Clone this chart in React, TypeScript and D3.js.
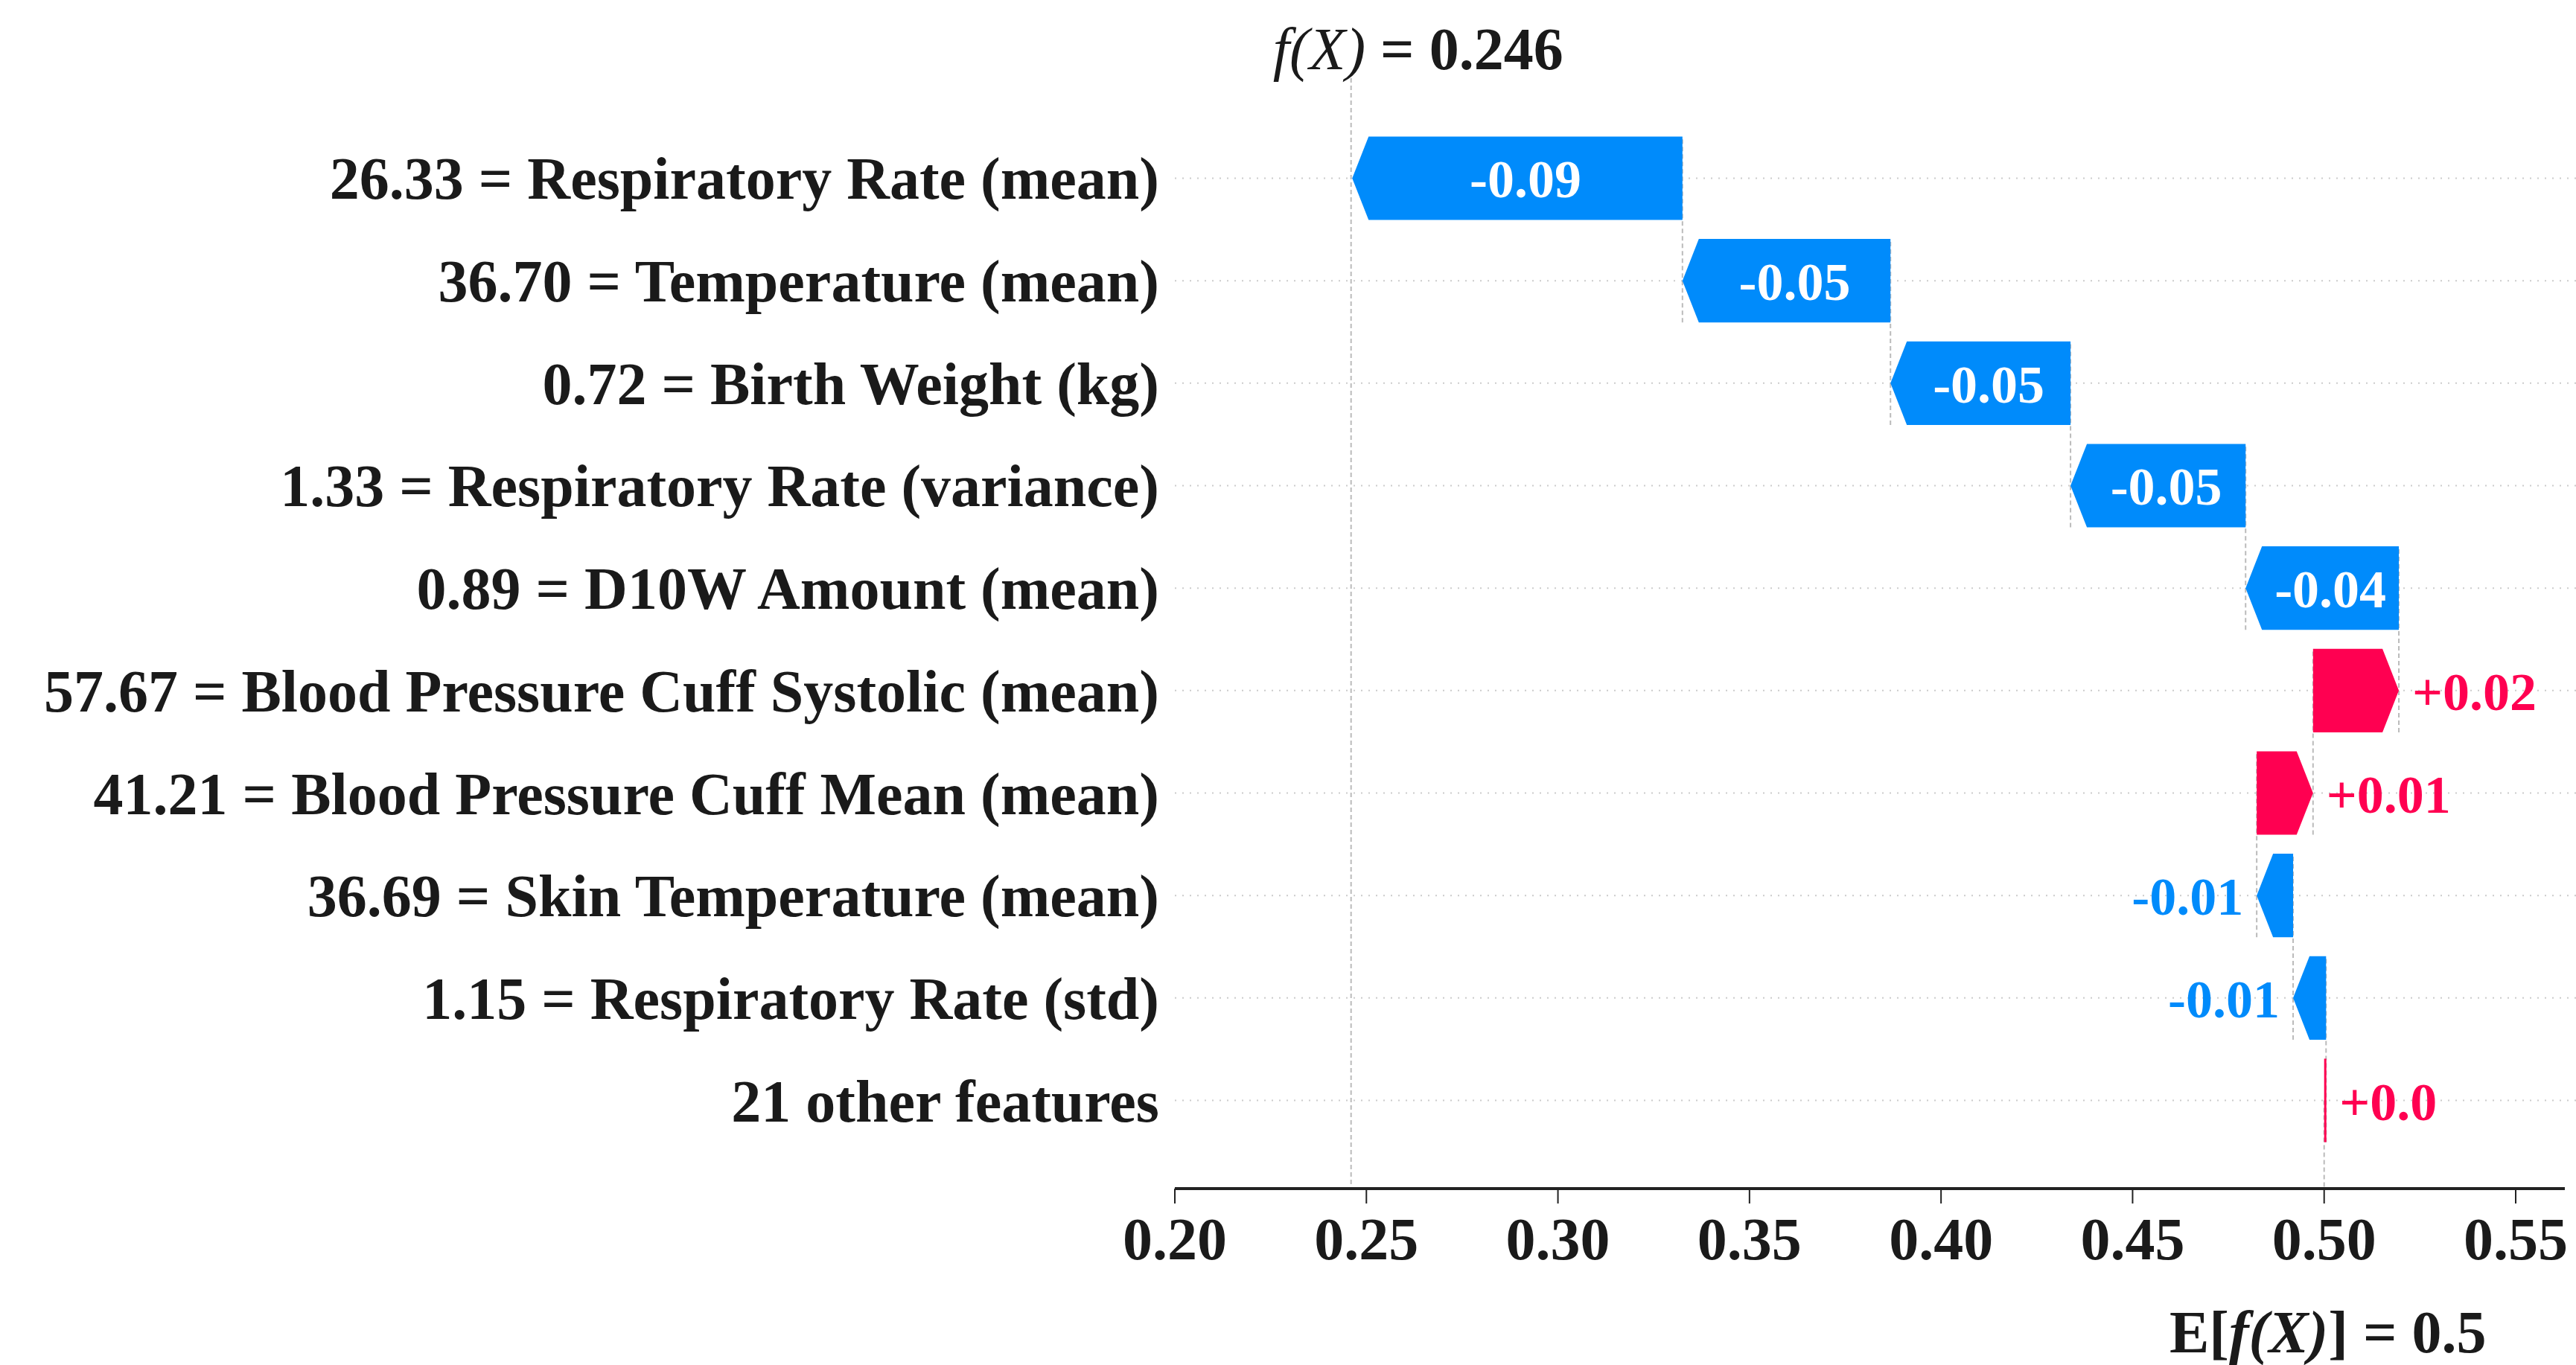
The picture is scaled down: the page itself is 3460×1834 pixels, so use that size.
import React from "react";
import * as d3 from "d3";

const features = [
  "26.33 = Respiratory Rate (mean)",
  "36.70 = Temperature (mean)",
  "0.72 = Birth Weight (kg)",
  "1.33 = Respiratory Rate (variance)",
  "0.89 = D10W Amount (mean)",
  "57.67 = Blood Pressure Cuff Systolic (mean)",
  "41.21 = Blood Pressure Cuff Mean (mean)",
  "36.69 = Skin Temperature (mean)",
  "1.15 = Respiratory Rate (std)",
  "21 other features",
];
const shapValues = [-0.0862, -0.0543, -0.047, -0.0457, -0.04, 0.0224, 0.0147, -0.0095, -0.0086, 0.0005];
const valueLabels = ["-0.09", "-0.05", "-0.05", "-0.05", "-0.04", "+0.02", "+0.01", "-0.01", "-0.01", "+0.0"];
const baseValue = 0.5;
const fx = 0.246;
const ticks = [0.2, 0.25, 0.3, 0.35, 0.4, 0.45, 0.5, 0.55];

const BLUE = "#008bfb";
const RED = "#ff0051";
const FONT = "'Liberation Serif', 'Times New Roman', serif";

export default function App() {
  const W = 3460, H = 1834;
  const x = d3.scaleLinear().domain([0.2, 0.55]).range([1578, 3379]);
  const y = d3.scaleBand<number>().domain(d3.range(features.length)).range([171, 1547]).paddingInner(0.185).paddingOuter(0.09);
  const bh = y.bandwidth();
  const cy = (i: number) => (y(i) as number) + bh / 2;

  // cumulative: bottom row starts at base value
  const starts: number[] = new Array(features.length);
  const ends: number[] = new Array(features.length);
  let cur = baseValue;
  for (let i = features.length - 1; i >= 0; i--) {
    starts[i] = cur;
    cur = cur + shapValues[i];
    ends[i] = cur;
  }
  const head = 22;
  const axisY = 1597;

  const arrowPath = (i: number) => {
    const s = x(starts[i]), e = x(ends[i]);
    const top = y(i) as number, bot = top + bh, mid = top + bh / 2;
    const dir = e > s ? 1 : -1;
    const len = Math.abs(e - s);
    const hl = Math.min(head, len);
    const bodyEnd = e - dir * hl;
    return `M${s},${top} L${bodyEnd},${top} L${e},${mid} L${bodyEnd},${bot} L${s},${bot} Z`;
  };

  return (
    <svg width={W} height={H} style={{ position: "absolute", left: 0, top: 0, background: "#fff" }} fontFamily={FONT}>
      {/* gridlines */}
      {features.map((_, i) => (
        <line key={"g" + i} x1={1578} x2={W} y1={cy(i)} y2={cy(i)} stroke="#ccc" strokeWidth={2} strokeDasharray="2,8" />
      ))}
      {/* f(X) and base lines */}
      <line x1={x(fx)} x2={x(fx)} y1={105} y2={axisY} stroke="#bbb" strokeWidth={2} strokeDasharray="6,4" />
      <line x1={x(baseValue)} x2={x(baseValue)} y1={cy(features.length - 1)} y2={axisY} stroke="#bbb" strokeWidth={2} strokeDasharray="6,4" />
      {/* connectors */}
      {features.map((_, i) =>
        i > 0 ? (
          <line key={"c" + i} x1={x(ends[i])} x2={x(ends[i])} y1={(y(i) as number) + bh} y2={(y(i - 1) as number)} stroke="#bbb" strokeWidth={2} strokeDasharray="6,4" />
        ) : null
      )}
      {/* bars */}
      {features.map((_, i) => {
        const v = shapValues[i];
        const color = v >= 0 ? RED : BLUE;
        const len = Math.abs(x(ends[i]) - x(starts[i]));
        if (len < 6) {
          return <rect key={"b" + i} x={x(starts[i])} y={y(i) as number} width={3} height={bh} fill={color} />;
        }
        return <path key={"b" + i} d={arrowPath(i)} fill={color} />;
      })}
      {/* bar labels */}
      {features.map((_, i) => {
        const v = shapValues[i];
        const s = x(starts[i]), e = x(ends[i]);
        const len = Math.abs(e - s);
        const inside = len > 180;
        const color = v >= 0 ? RED : BLUE;
        if (inside) {
          return (
            <text key={"l" + i} x={(s + e) / 2 + (v < 0 ? head / 2 : -head / 2)} y={cy(i) + 26} textAnchor="middle" fill="#fff" fontSize={72} fontWeight="bold">{valueLabels[i]}</text>
          );
        }
        const right = Math.max(s, e), left = Math.min(s, e);
        return v >= 0 ? (
          <text key={"l" + i} x={right + 18} y={cy(i) + 26} textAnchor="start" fill={color} fontSize={72} fontWeight="bold">{valueLabels[i]}</text>
        ) : (
          <text key={"l" + i} x={left - 18} y={cy(i) + 26} textAnchor="end" fill={color} fontSize={72} fontWeight="bold">{valueLabels[i]}</text>
        );
      })}
      {/* feature labels */}
      {features.map((f, i) => (
        <text key={"f" + i} x={1557} y={cy(i) + 28} textAnchor="end" fontSize={80} fontWeight="bold" fill="#1a1a1a">{f}</text>
      ))}
      {/* axis */}
      <line x1={1578} x2={3445} y1={axisY} y2={axisY} stroke="#222" strokeWidth={4} />
      {ticks.map((t) => (
        <g key={"t" + t}>
          <line x1={x(t)} x2={x(t)} y1={axisY} y2={axisY + 20} stroke="#222" strokeWidth={2} />
          <text x={x(t)} y={1692} textAnchor="middle" fontSize={80} fontWeight="bold" fill="#1a1a1a">{t.toFixed(2)}</text>
        </g>
      ))}
      {/* f(X) */}
      <text x={x(fx) + 90} y={93} textAnchor="middle" fontSize={80} fontWeight="bold" fill="#1a1a1a">
        <tspan fontStyle="italic" fontWeight="normal">f(X)</tspan>
        <tspan> = {fx.toFixed(3)}</tspan>
      </text>
      <text x={x(baseValue) + 5} y={1817} textAnchor="middle" fontSize={80} fontWeight="bold" fill="#1a1a1a">
        <tspan>E[</tspan>
        <tspan fontStyle="italic">f(X)</tspan>
        <tspan>] = {baseValue}</tspan>
      </text>
    </svg>
  );
}
